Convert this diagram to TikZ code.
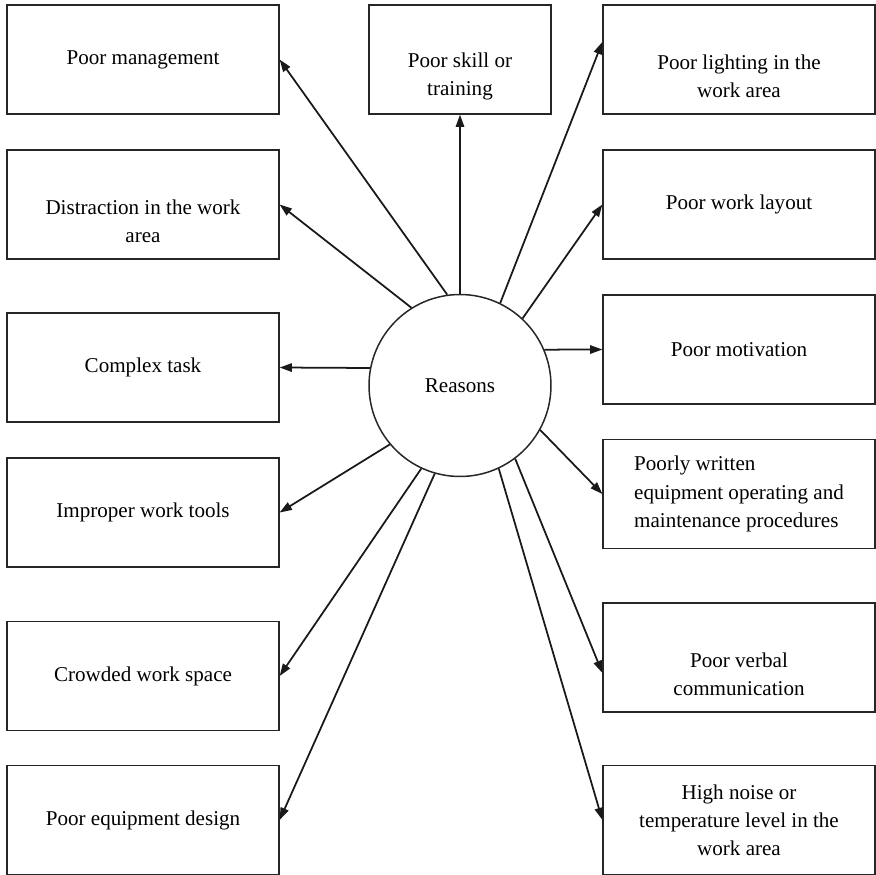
\documentclass[tikz,border=0pt]{standalone}
\usepackage{fontspec}
\setmainfont{Liberation Serif}
\usetikzlibrary{arrows.meta}

\begin{document}
\begin{tikzpicture}[x=0.02cm, y=-0.02cm, font=\fontsize{12}{16}\selectfont,
  box/.style={draw=black!85, line width=0.75pt, minimum width=5.44cm, minimum height=2.18cm, align=center, inner sep=2pt},
  midbox/.style={box, minimum width=3.64cm},
  cause/.style={draw=black!90, line width=1pt, -{Triangle[length=7pt,width=4.8pt]}}]
  \useasboundingbox (0,0) rectangle (876,875);
  % Centre circle
  \node[circle, draw=black!85, line width=0.85pt, minimum size=3.64cm, inner sep=0pt] (reasons) at (460,385.5) {Reasons};
  % Left column
  \node[box] (mgmt) at (143,59.5) {Poor management};
  \node[box] (distract) at (143,204.5) {\strut\\Distraction in the work\\area};
  \node[box] (complex) at (143,367.5) {Complex task};
  \node[box] (tools) at (143,512.5) {Improper work tools};
  \node[box] (crowd) at (143,676) {Crowded work space};
  \node[box] (design) at (143,820) {Poor equipment design};
  % Top middle
  \node[midbox] (skill) at (460,59.5) {\strut\\Poor skill or\\training};
  % Right column
  \node[box] (light) at (739,59.5) {\strut\\Poor lighting in the\\work area};
  \node[box] (layout) at (739,204.5) {Poor work layout};
  \node[box] (motiv) at (739,349.5) {Poor motivation};
  \node[box, align=left] (manual) at (739,494) {Poorly written\\equipment operating and\\maintenance procedures};
  \node[box] (verbal) at (739,657.5) {\strut\\Poor verbal\\communication};
  \node[box] (noise) at (739,820) {High noise or\\temperature level in the\\work area};
  % Arrows out of the circle
  \draw[cause] (reasons.98) -- (mgmt.east);
  \draw[cause] (reasons.122) -- (distract.east);
  \draw[cause] (reasons.169) -- (complex.east);
  \draw[cause] (reasons.220) -- (tools.east);
  \draw[cause] (reasons.245) -- (crowd.east);
  \draw[cause] (reasons.254) -- (design.east);
  \draw[cause] (reasons.90) -- (skill.south);
  \draw[cause] (reasons.64) -- ([yshift=10pt]light.west);
  \draw[cause] (reasons.47) -- (layout.west);
  \draw[cause] (reasons.23) -- (motiv.west);
  \draw[cause] (reasons.-29) -- (manual.west);
  \draw[cause] (reasons.307) -- ([yshift=-8.8pt]verbal.west);
  \draw[cause] (reasons.295) -- (noise.west);
\end{tikzpicture}
\end{document}
